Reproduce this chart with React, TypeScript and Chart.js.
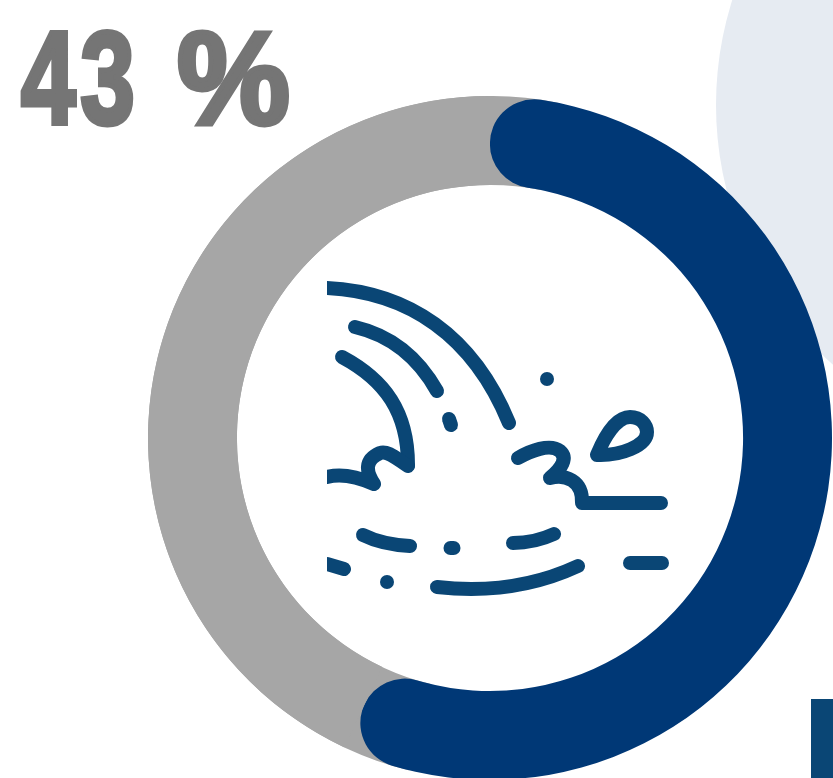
import React, { useEffect, useRef } from "react";
import { Chart, registerables } from "chart.js";

Chart.register(...registerables);

const categories = ["Sí", "No"];
const shareValues = [57, 43];
const sliceColors = ["#003876", "#a6a6a6"];
const ICON_COLOR = "#0a4675";
const TEXT_COLOR = "#757575";

const iconStrokes = [
  "M327 288 C408 292 473 335 509 423",
  "M355 327 C385 334 415 352 437 391",
  "M342 357 C385 380 408 412 408 465",
  "M327 477 C342 473 358 477 374 484 C366 472 364 460 380 453 C388 450 398 460 408 466",
  "M518 458 C530 451 550 443 560 451 C568 458 562 468 550 478 C565 474 583 480 582 503 L661 503",
  "M597 455 C604 438 616 417 630 417 C641 417 647 425 647 432 C647 446 620 456 597 455 Z",
  "M449 419 L451 425",
  "M547 379 L547 379",
  "M387 582 L387 582",
  "M450.5 548 L453.5 548",
  "M363 535 C375 541 392 545 410 546",
  "M513 543 C528 543 541 540 554 534",
  "M327 564 L344 569",
  "M437 587 C490 593 535 586 578 566",
  "M630 563 L662 563",
];

const ringBacking = {
  id: "ringBacking",
  beforeDatasetsDraw(chart: any) {
    const gray = chart.getDatasetMeta(0).data[1];
    if (!gray) return;
    const { x, y, startAngle, endAngle, innerRadius, outerRadius } = gray;
    const overlap = 0.2;
    const ctx = chart.ctx;
    ctx.save();
    ctx.fillStyle = sliceColors[1];
    ctx.beginPath();
    ctx.arc(x, y, outerRadius, startAngle - overlap, endAngle + overlap);
    ctx.arc(x, y, innerRadius, endAngle + overlap, startAngle - overlap, true);
    ctx.closePath();
    ctx.fill();
    ctx.restore();
  },
};

const glyphStyle: React.CSSProperties = {
  display: "inline-block",
  transformOrigin: "0 50%",
  verticalAlign: "top",
};

export default function App() {
  const ref = useRef<HTMLCanvasElement>(null);
  useEffect(() => {
    if (!ref.current) return;
    const chart = new Chart(ref.current, {
      type: "doughnut",
      data: {
        labels: categories,
        datasets: [
          {
            data: shareValues,
            backgroundColor: sliceColors,
            borderWidth: 0,
            borderRadius: [44.5, 0] as any,
          },
        ],
      },
      options: {
        responsive: false,
        animation: false,
        cutout: "74%",
        layout: { padding: 0 },
        plugins: { legend: { display: false }, tooltip: { enabled: false } },
      },
      plugins: [ringBacking],
    });
    return () => chart.destroy();
  }, []);

  return (
    <div style={{ position: "fixed", left: 0, top: 0, width: 833, height: 778, overflow: "hidden", background: "#fff" }}>
      <div style={{ position: "absolute", left: 716, top: -242, width: 694, height: 694, borderRadius: "50%", background: "#e6ebf2" }} />
      <div style={{ position: "absolute", left: 811, top: 699, width: 22, height: 79, background: ICON_COLOR }} />
      <canvas ref={ref} width={684} height={684} style={{ position: "absolute", left: 148, top: 96, width: 684, height: 684 }} />
      <svg width={350} height={340} viewBox="327 270 350 340" style={{ position: "absolute", left: 327, top: 270 }}>
        {iconStrokes.map((d, i) => (
          <path key={i} d={d} fill="none" stroke={ICON_COLOR} strokeWidth={14} strokeLinecap="round" strokeLinejoin="round" />
        ))}
      </svg>
      <div
        style={{
          position: "absolute",
          left: 21,
          top: 4,
          width: 300,
          fontFamily: '"Liberation Sans", sans-serif',
          fontWeight: 700,
          fontSize: 131,
          lineHeight: "150px",
          color: TEXT_COLOR,
          WebkitTextStroke: `5px ${TEXT_COLOR}`,
          whiteSpace: "pre",
        }}
      >
        <span style={{ ...glyphStyle, width: 156, letterSpacing: 6, transform: "scaleX(0.75)" }}>43</span>
        <span style={{ ...glyphStyle, width: 0 }}> </span>
        <span style={{ ...glyphStyle, transform: "scaleX(0.97)" }}>%</span>
      </div>
    </div>
  );
}
